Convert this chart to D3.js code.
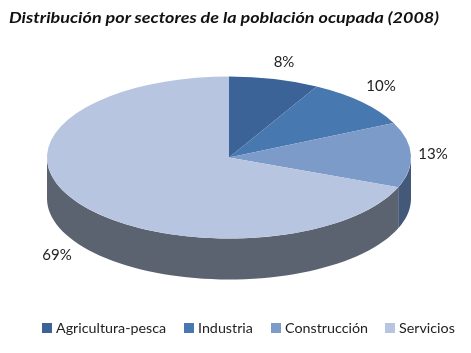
<!doctype html>
<html>
<head>
<meta charset="utf-8">
<script src="https://cdn.jsdelivr.net/npm/d3@7"></script>
<style>
html,body{margin:0;padding:0;background:#fff}
svg{display:block;filter:blur(0.35px)}
text{font-family:Lato,"Open Sans",sans-serif;fill:#222}
</style>
</head>
<body>
<svg width="471" height="353" viewBox="0 0 471 353"></svg>
<script>
const sectores = ["Agricultura-pesca","Industria","Construcción","Servicios"];
const valores = [8,10,13,69];
const colores = ["#3b6398","#4878b0","#7d9bc8","#b8c5e0"];
const coloresLado = ["#2c4a72","#36598a","#44587a","#5c6370"];
const titulo = "Distribución por sectores de la población ocupada (2008)";

var cx = 229, cy = 157.5, rx = 182, ry = 81, depth = 41;
var svg = d3.select("svg");

svg.append("text")
  .attr("x", 9).attr("y", 23)
  .attr("textLength", 430).attr("lengthAdjust", "spacingAndGlyphs")
  .style("font-size", "15px").style("font-weight", 700).style("font-style", "italic")
  .style("fill", "#111")
  .text(titulo);

var arcs = d3.pie().sort(null)(valores);

// pared lateral: solo la parte que mira al frente (de 90 a 270 grados)
var lado = d3.area()
  .x(a => cx + rx * Math.sin(a))
  .y0(a => cy - ry * Math.cos(a))
  .y1(a => cy - ry * Math.cos(a) + depth);

arcs.forEach((d, i) => {
  var a0 = Math.max(d.startAngle, Math.PI / 2);
  var a1 = Math.min(d.endAngle, Math.PI * 1.5);
  if (a1 <= a0) return;
  svg.append("path")
    .attr("d", lado(d3.range(0, 61).map(k => a0 + (a1 - a0) * k / 60)))
    .attr("fill", coloresLado[i]);
});

// tapa: arco circular aplastado en y
var arco = d3.arc().innerRadius(0).outerRadius(rx);
svg.append("g")
  .attr("transform", "translate(" + cx + "," + cy + ") scale(1," + (ry / rx) + ")")
  .selectAll("path")
  .data(arcs)
  .enter()
  .append("path")
  .attr("d", arco)
  .attr("fill", (d, i) => colores[i]);

// etiquetas de porcentaje
var etiquetaX = d3.scaleOrdinal(sectores, [284, 381, 433, 57]);
var etiquetaY = d3.scaleOrdinal(sectores, [62, 86, 154, 255]);
svg.selectAll(".pct")
  .data(valores)
  .enter()
  .append("text")
  .attr("class", "pct")
  .attr("x", (d, i) => etiquetaX(sectores[i]))
  .attr("y", (d, i) => etiquetaY(sectores[i]) - 1)
  .attr("text-anchor", "middle")
  .attr("dominant-baseline", "central")
  .style("font-size", "15px")
  .text(d => d + "%");

// leyenda
var leyendaX = d3.scaleOrdinal(sectores, [42, 184, 271, 385]);
var leg = svg.selectAll(".leg")
  .data(sectores)
  .enter()
  .append("g")
  .attr("class", "leg")
  .attr("transform", d => "translate(" + leyendaX(d) + ",323)");
leg.append("rect")
  .attr("width", 10).attr("height", 10)
  .attr("fill", (d, i) => colores[i]);
leg.append("text")
  .attr("x", 14).attr("y", 10)
  .style("font-size", "14.3px")
  .text(d => d);
</script>
</body>
</html>
